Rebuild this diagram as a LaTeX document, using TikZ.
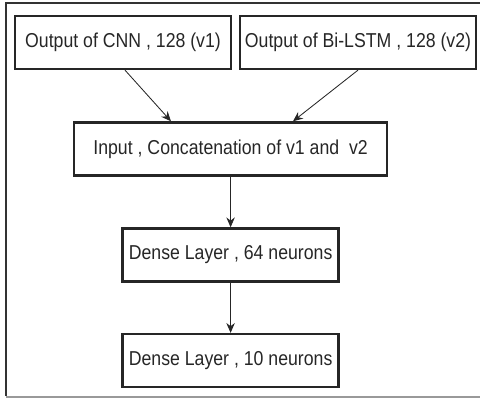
\documentclass[tikz,border=0pt]{standalone}
\usepackage{fontspec}
\setmainfont[FakeStretch=0.88]{Liberation Sans}
\usetikzlibrary{positioning,arrows.meta}

\tikzstyle{box} = [rectangle, minimum height=1.325cm, text centered, draw=black!85, line width=1.6pt, inner sep=0pt, font=\fontsize{14.3}{17}\selectfont, text=black!85]
\tikzstyle{arrow} = [line width=0.6pt, ->, >={Stealth[length=7pt,width=6pt]}, draw=black!85]

\begin{document}
\begin{tikzpicture}
  \useasboundingbox (0,0) rectangle (12,-9.975);
  % outer frame, right side runs off the page
  \draw [line width=1.8pt, black!80] (12.1,-0.075) -- (0.15,-0.075) -- (0.15,-9.9);
  \draw [line width=1pt, black!40] (0.15,-9.925) -- (12.1,-9.925);

  \node (CNN Output) [box, minimum width=5.4cm] at (3.075,-1.0625) {Output of CNN , 128 (v1)};
  \node (LSTM Output) [box, minimum width=5.9cm, right of=CNN Output, xshift=4.875cm] {Output of Bi-LSTM , 128 (v2)};
  \node (Concatenation) [box, minimum width=7.825cm, below of=CNN Output, node distance=2.66cm, xshift=2.69cm] {Input , Concatenation of v1 and\ \ v2};
  \node (Dense 64) [box, minimum width=5.4cm, below of=Concatenation, node distance=2.65cm] {Dense Layer , 64 neurons};
  \node (Dense 10) [box, minimum width=5.4cm, below of=Dense 64, node distance=2.64cm] {Dense Layer , 10 neurons};

  \draw [arrow] ([xshift=0.05cm]CNN Output.south) -- ([xshift=-1.49cm]Concatenation.north);
  \draw [arrow] (LSTM Output.south) -- ([xshift=1.56cm]Concatenation.north);
  \draw [arrow] (Concatenation) -- (Dense 64);
  \draw [arrow] (Dense 64) -- (Dense 10);
\end{tikzpicture}
\end{document}
